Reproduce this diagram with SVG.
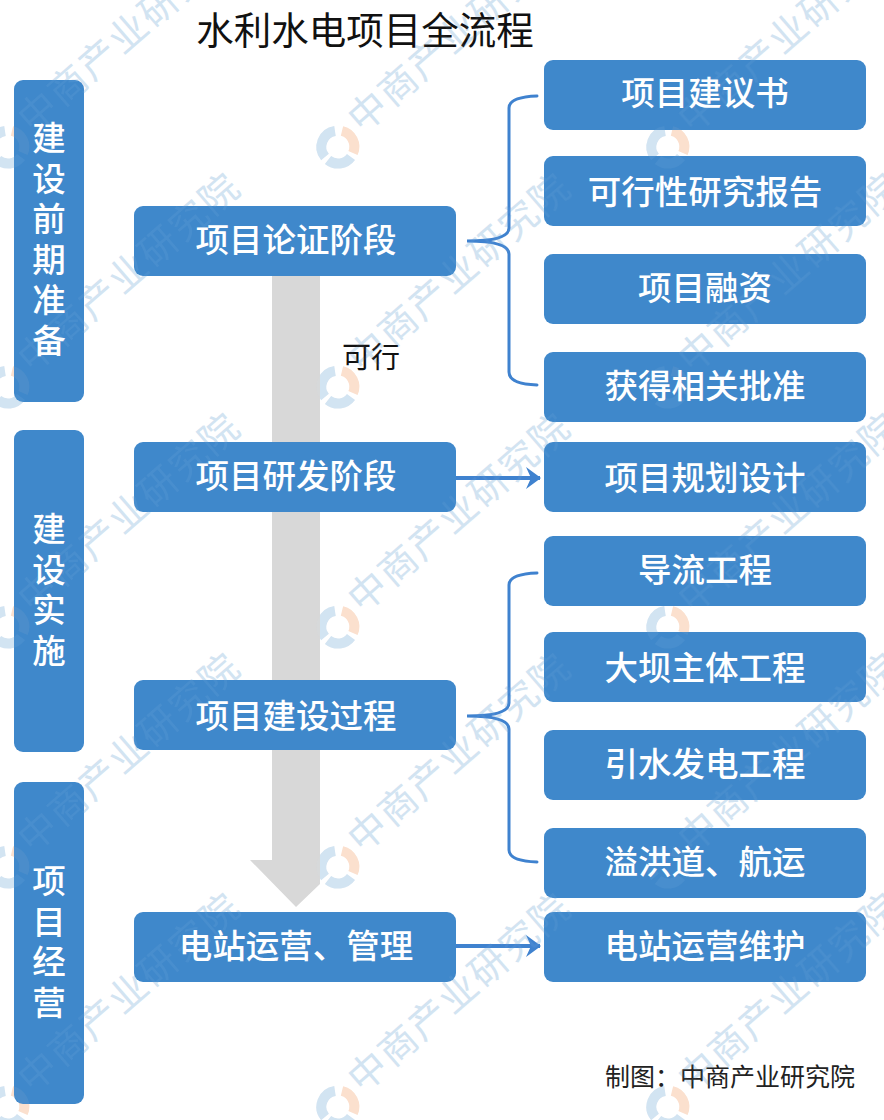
<svg xmlns="http://www.w3.org/2000/svg" width="884" height="1120" viewBox="0 0 884 1120">
<style>
text{font-family:"Noto Sans CJK SC","Noto Sans",sans-serif}
.n{fill:#3f88cb}
.t{fill:#fff;font-size:33.5px;font-weight:500;text-anchor:middle}
.v{fill:#fff;font-size:33.5px;font-weight:500;writing-mode:vertical-rl;letter-spacing:7px}
.wm{fill:#d3e4f2;font-size:38px;letter-spacing:2px}
.c{fill:none;stroke:#3f82cf;stroke-width:3;stroke-linecap:round}
.s{fill:none;stroke:#3f82cf;stroke-width:4}
.a{fill:none;stroke-width:10}
</style>
<defs>
<g id="mark">
<path class="a" stroke="#d3e4f2" d="M-3 -16A16 16 0 0 0 -13 10"/>
<path class="a" stroke="#fbe0ce" d="M4 -16A16 16 0 0 1 15 6"/>
<path class="a" stroke="#d3e4f2" d="M-10 13A16 16 0 0 0 13 10"/>
<text class="wm" transform="translate(30 -35) rotate(-41)" x="-19" y="13">中商产业研究院</text>
</g>
<g id="marks">
<use href="#mark" x="8" y="147"/><use href="#mark" x="338" y="147"/><use href="#mark" x="668" y="147"/>
<use href="#mark" x="8" y="387"/><use href="#mark" x="338" y="387"/><use href="#mark" x="668" y="387"/>
<use href="#mark" x="8" y="627"/><use href="#mark" x="338" y="627"/><use href="#mark" x="668" y="627"/>
<use href="#mark" x="8" y="867"/><use href="#mark" x="338" y="867"/><use href="#mark" x="668" y="867"/>
<use href="#mark" x="8" y="1107"/><use href="#mark" x="338" y="1107"/><use href="#mark" x="668" y="1107"/>
</g>
<marker id="ah" viewBox="0 0 16 22" refX="15" refY="11" markerWidth="16" markerHeight="22" markerUnits="userSpaceOnUse" orient="auto"><path d="M1 0L16 11L1 22L6 11Z" fill="#3f82cf"/></marker>
</defs>
<rect width="884" height="1120" fill="#fff"/>
<use href="#marks"/>
<text id="title" x="365" y="44" font-size="37.5" text-anchor="middle" fill="#111">水利水电项目全流程</text>
<polygon id="flow-arrow" points="272,276 320,276 320,884 296,907 250,860 272,860" fill="#d8d8d8"/>
<g id="connectors">
<path class="c" d="M537 96Q509 97 509 108V228Q509 241 467 241Q509 241 509 254V372Q509 384 537 385"/>
<path class="c" d="M537 573Q509 574 509 585V703Q509 716 467 716Q509 716 509 729V850Q509 861 537 862"/>
<path class="s" d="M456 478H540" marker-end="url(#ah)"/>
<path class="s" d="M456 946H540" marker-end="url(#ah)"/>
</g>
<g id="phase-prep"><rect class="n" x="14" y="80" width="70" height="322" rx="9"/><text class="v" x="49" y="121">建设前期准备</text></g>
<g id="phase-build"><rect class="n" x="14" y="430" width="70" height="322" rx="9"/><text class="v" x="49" y="512">建设实施</text></g>
<g id="phase-ops"><rect class="n" x="14" y="782" width="70" height="322" rx="9"/><text class="v" x="49" y="864">项目经营</text></g>
<g id="stage-1"><rect class="n" x="134" y="206" width="322" height="70" rx="9"/><text class="t" x="296" y="252">项目论证阶段</text></g>
<g id="stage-2"><rect class="n" x="134" y="442" width="322" height="70" rx="9"/><text class="t" x="296" y="488">项目研发阶段</text></g>
<g id="stage-3"><rect class="n" x="134" y="680" width="322" height="70" rx="9"/><text class="t" x="296" y="728">项目建设过程</text></g>
<g id="stage-4"><rect class="n" x="134" y="912" width="322" height="70" rx="9"/><text class="t" x="296" y="958">电站运营、管理</text></g>
<g id="item-1"><rect class="n" x="544" y="60" width="322" height="70" rx="9"/><text class="t" x="705" y="105">项目建议书</text></g>
<g id="item-2"><rect class="n" x="544" y="156" width="322" height="70" rx="9"/><text class="t" x="705" y="204">可行性研究报告</text></g>
<g id="item-3"><rect class="n" x="544" y="254" width="322" height="70" rx="9"/><text class="t" x="705" y="300">项目融资</text></g>
<g id="item-4"><rect class="n" x="544" y="352" width="322" height="70" rx="9"/><text class="t" x="705" y="398">获得相关批准</text></g>
<g id="item-5"><rect class="n" x="544" y="442" width="322" height="70" rx="9"/><text class="t" x="705" y="490">项目规划设计</text></g>
<g id="item-6"><rect class="n" x="544" y="536" width="322" height="70" rx="9"/><text class="t" x="705" y="582">导流工程</text></g>
<g id="item-7"><rect class="n" x="544" y="632" width="322" height="70" rx="9"/><text class="t" x="705" y="680">大坝主体工程</text></g>
<g id="item-8"><rect class="n" x="544" y="730" width="322" height="70" rx="9"/><text class="t" x="705" y="776">引水发电工程</text></g>
<g id="item-9"><rect class="n" x="544" y="828" width="322" height="70" rx="9"/><text class="t" x="705" y="874">溢洪道、航运</text></g>
<g id="item-10"><rect class="n" x="544" y="912" width="322" height="70" rx="9"/><text class="t" x="705" y="958">电站运营维护</text></g>
<text id="label-feasible" x="342" y="368" font-size="29" fill="#111">可行</text>
<text id="credit" x="605" y="1086" font-size="25" fill="#222">制图：中商产业研究院</text>
<use href="#marks" opacity="0.07"/>
</svg>
